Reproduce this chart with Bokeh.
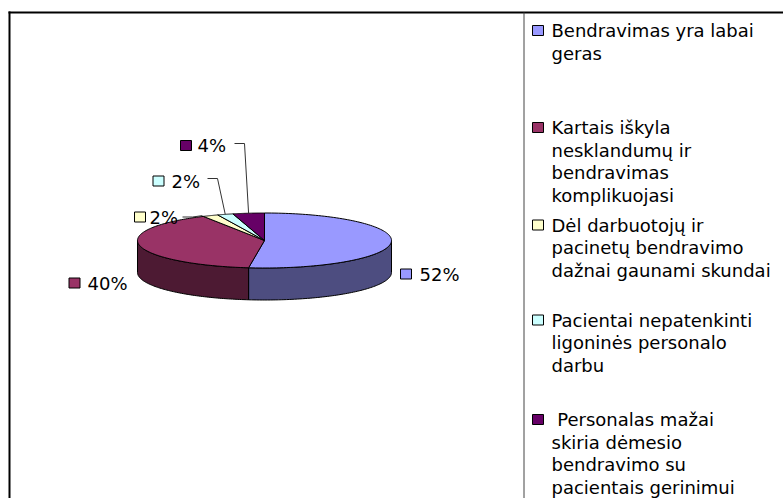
import numpy as np
from bokeh.plotting import figure
from bokeh.models import Range1d
from bokeh.core.properties import value
from bokeh.embed import file_html
from bokeh.resources import INLINE

# ---- data ----
categories = [
    "Bendravimas yra labai geras",
    "Kartais iškyla nesklandumų ir bendravimas komplikuojasi",
    "Dėl darbuotojų ir pacinetų bendravimo dažnai gaunami skundai",
    "Pacientai nepatenkinti ligoninės personalo darbu",
    " Personalas mažai skiria dėmesio bendravimo su pacientais gerinimui",
]
legend_lines = [
    ["Bendravimas yra labai", "geras"],
    ["Kartais iškyla", "nesklandumų ir", "bendravimas", "komplikuojasi"],
    ["Dėl darbuotojų ir", "pacinetų bendravimo", "dažnai gaunami skundai"],
    ["Pacientai nepatenkinti", "ligoninės personalo", "darbu"],
    ["\u00a0Personalas mažai", "skiria dėmesio", "bendravimo su", "pacientais gerinimui"],
]
percent_values = [52, 40, 2, 2, 4]
label_texts = ["52%", "40%", "2%", "2%", "4%"]

# ---- styles ----
top_colors = ["#9999FF", "#993366", "#FFFFCC", "#CCFFFF", "#660066"]
side_colors = ["#4D4D80", "#4D1A33", "#808066", "#668080", "#330033"]
FONT = value("DejaVu Sans")
FS = "18px"

# geometry of the 3D pie (page pixels)
CX, CY, RX, RY, DEPTH = 264, 240, 127, 27.5, 32

# percentage label anchors (square centre x, y) & text x
lab_sq = [(405.5, 273.5), (74, 282.5), (139.5, 216.5), (158, 180.5), (185.5, 145)]
lab_tx = [419, 87, 149, 171, 197]

# legend layout
LEG_SQ_X, LEG_TX_X = 537.5, 551
leg_first_y = [30, 127, 224.5, 319.5, 419]
LEG_LH = 22.5

p = figure(width=783, height=498, x_range=Range1d(0, 783), y_range=Range1d(498, 0),
           toolbar_location=None, output_backend="svg", min_border=0)
p.axis.visible = False
p.grid.visible = False
p.outline_line_color = None
p.background_fill_color = "white"
p.border_fill_color = "white"


def pt(theta, dy=0.0):
    t = np.radians(theta)
    return CX + RX * np.sin(t), CY - RY * np.cos(t) + dy


total = float(sum(percent_values))
bounds = [0.0]
for v in percent_values:
    bounds.append(bounds[-1] + 360.0 * v / total)

# side faces (front half: 90..270 deg)
sxs, sys_, scol = [], [], []
for i in range(len(percent_values)):
    a, b = max(bounds[i], 90.0), min(bounds[i + 1], 270.0)
    if b <= a:
        continue
    th = np.linspace(a, b, 80)
    x1, y1 = pt(th)
    x2, y2 = pt(th[::-1], DEPTH)
    sxs.append(list(x1) + list(x2))
    sys_.append(list(y1) + list(y2))
    scol.append(side_colors[i])
p.patches(sxs, sys_, fill_color=scol, line_color="black", line_width=1)

# top faces
txs, tys = [], []
for i in range(len(percent_values)):
    th = np.linspace(bounds[i], bounds[i + 1], 120)
    x, y = pt(th)
    txs.append([CX] + list(x))
    tys.append([CY] + list(y))
p.patches(txs, tys, fill_color=top_colors, line_color="black", line_width=1)

# leader lines for small slices
mids = [(bounds[i] + bounds[i + 1]) / 2 for i in range(len(percent_values))]
leaders = {2: (182, 216.5, 192), 3: (207, 178, 217), 4: (234, 143, 244)}
for i, (x0, y0, x1) in leaders.items():
    mx, my = pt(mids[i])
    if i == 2:
        mx, my = mx - 8, my
    p.line([x0, x1, mx], [y0, y0, my], line_color="#333333", line_width=1)

# percentage labels
p.rect([s[0] for s in lab_sq], [s[1] for s in lab_sq], width=11, height=10,
       fill_color=top_colors, line_color="black", line_width=1)
p.text(lab_tx, [s[1] for s in lab_sq], text=label_texts, text_font=FONT,
       text_font_size=FS, text_baseline="middle", text_align="left", text_color="black")

# frame
p.line([8, 783], [12, 12], line_color="black", line_width=2)
p.line([9, 9], [11, 498], line_color="black", line_width=2)
p.line([523.5, 523.5], [12, 498], line_color="#444444", line_width=1)

# legend
p.rect([LEG_SQ_X] * len(categories), leg_first_y, width=11, height=10,
       fill_color=top_colors, line_color="black", line_width=1)
lx, ly, lt = [], [], []
for k, lines in enumerate(legend_lines):
    for j, s in enumerate(lines):
        lx.append(LEG_TX_X)
        ly.append(leg_first_y[k] + j * LEG_LH)
        lt.append(s)
p.text(lx, ly, text=lt, text_font=FONT, text_font_size=FS, text_baseline="middle",
       text_align="left", text_color="black")

open("out.html", "w").write(file_html(p, INLINE))
